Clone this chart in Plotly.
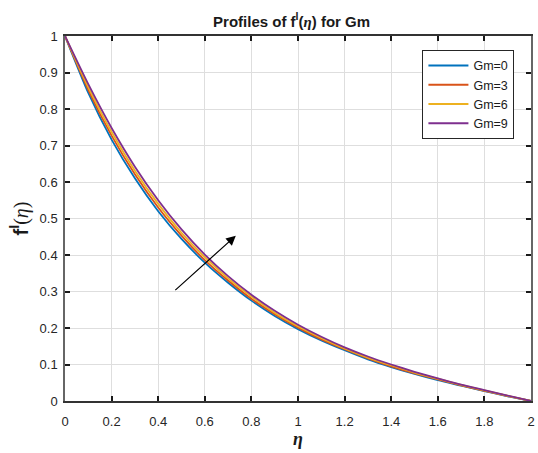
import plotly.graph_objects as go

eta = [0.0, 0.1, 0.2, 0.3, 0.4, 0.5, 0.6, 0.7, 0.8, 0.9, 1.0,
       1.1, 1.2, 1.3, 1.4, 1.5, 1.6, 1.7, 1.8, 1.9, 2.0]

gm0 = [1.0, 0.844, 0.716, 0.610, 0.520, 0.444, 0.379, 0.324, 0.275, 0.233, 0.197,
       0.166, 0.139, 0.114, 0.093, 0.074, 0.057, 0.042, 0.027, 0.013, 0.0]
gm3 = [1.0, 0.852, 0.727, 0.621, 0.530, 0.453, 0.386, 0.330, 0.280, 0.238, 0.201,
       0.169, 0.142, 0.117, 0.095, 0.076, 0.059, 0.043, 0.028, 0.0137, 0.0]
gm6 = [1.0, 0.860, 0.737, 0.631, 0.540, 0.461, 0.394, 0.336, 0.286, 0.242, 0.205,
       0.173, 0.144, 0.119, 0.098, 0.078, 0.061, 0.044, 0.029, 0.0143, 0.0]
gm9 = [1.0, 0.868, 0.748, 0.642, 0.550, 0.470, 0.401, 0.342, 0.291, 0.247, 0.209,
       0.176, 0.147, 0.122, 0.100, 0.080, 0.062, 0.045, 0.030, 0.015, 0.0]

series_names = ["Gm=0", "Gm=3", "Gm=6", "Gm=9"]
series_vals = [gm0, gm3, gm6, gm9]
colors = ["#0072BD", "#D95319", "#EDB120", "#7E2F8E"]

x_ticks = [0, 0.2, 0.4, 0.6, 0.8, 1, 1.2, 1.4, 1.6, 1.8, 2]
x_ticktext = ["0", "0.2", "0.4", "0.6", "0.8", "1", "1.2", "1.4", "1.6", "1.8", "2"]
y_ticks = [0, 0.1, 0.2, 0.3, 0.4, 0.5, 0.6, 0.7, 0.8, 0.9, 1]
y_ticktext = ["0", "0.1", "0.2", "0.3", "0.4", "0.5", "0.6", "0.7", "0.8", "0.9", "1"]

fig = go.Figure()
for name, vals, c in zip(series_names, series_vals, colors):
    fig.add_trace(go.Scatter(x=eta, y=vals, mode="lines", name=name,
                             line=dict(color=c, width=1.8, shape="spline", smoothing=0.6)))

serif = "Liberation Serif, DejaVu Serif, serif"

fig.update_layout(
    width=538, height=453,
    margin=dict(l=65, r=3, t=36, b=52),
    paper_bgcolor="white", plot_bgcolor="white",
    font=dict(family="Liberation Sans, Arial, sans-serif", color="#262626", size=13),
    title=dict(text="<b>Profiles of f<sup>I</sup>(<span style='font-family:Liberation Serif'><i>η</i></span>) for Gm</b>",
               x=0.542, xanchor="center", y=0.953, yanchor="middle",
               font=dict(size=15, color="#1a1a1a")),
    showlegend=True,
    legend=dict(x=0.767, y=0.962, xanchor="left", yanchor="top",
                bgcolor="white", bordercolor="#262626", borderwidth=1,
                font=dict(size=12.5, color="#1a1a1a"),
                tracegroupgap=0, itemwidth=40),
)

fig.update_xaxes(range=[0, 2], tickvals=x_ticks, ticktext=x_ticktext,
                 showgrid=True, gridcolor="#dedede", gridwidth=1,
                 zeroline=False, showline=True, linecolor="#333333", linewidth=1.5,
                 mirror="allticks", ticks="inside", ticklen=5, tickwidth=1.5, tickcolor="#1a1a1a",
                 ticklabelstandoff=8,
                 title=dict(text="<b><i>η</i></b>", font=dict(family=serif, size=18, color="#1a1a1a"),
                            standoff=3))
fig.update_yaxes(range=[0, 1], tickvals=y_ticks, ticktext=y_ticktext,
                 showgrid=True, gridcolor="#dedede", gridwidth=1,
                 zeroline=False, showline=True, linecolor="#666666", linewidth=1.5,
                 mirror="allticks", ticks="inside", ticklen=5, tickwidth=1.5, tickcolor="#1a1a1a",
                 ticklabelstandoff=3,
                 title=dict(text="<b>f<sup>I</sup></b><span style='font-family:Liberation Serif'>(<i>η</i>)</span>",
                            font=dict(size=20, color="#1a1a1a"), standoff=6))

fig.add_annotation(x=0.733, y=0.453, ax=0.467, ay=0.30, xref="x", yref="y", axref="x", ayref="y",
                   showarrow=True, arrowhead=2, arrowsize=1.6, arrowwidth=1.2, arrowcolor="#000000", text="")

fig.write_html("out.html")
